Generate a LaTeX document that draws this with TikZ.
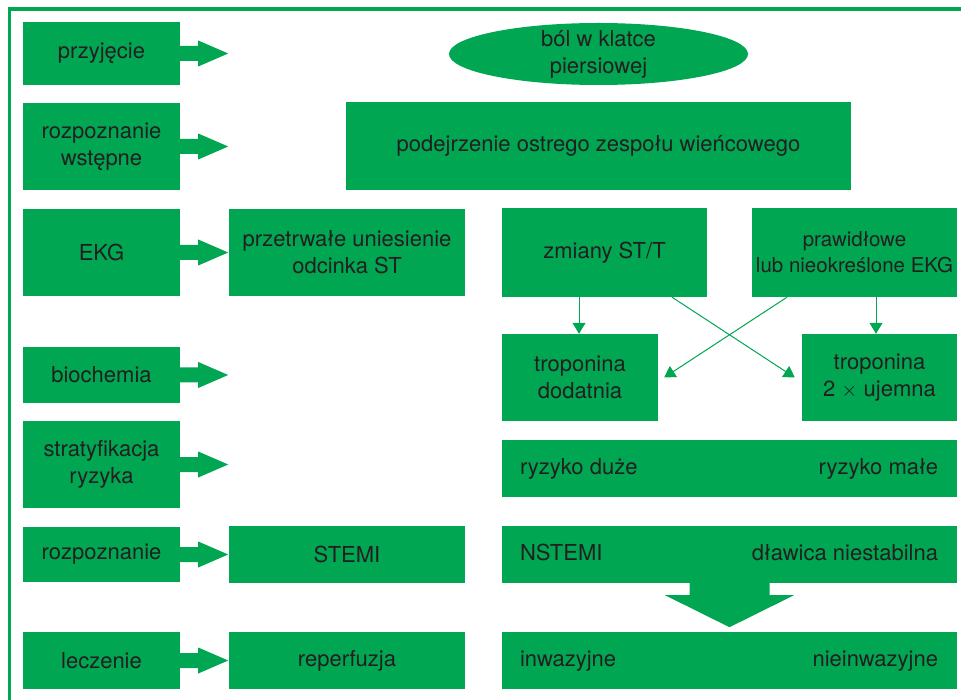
\documentclass[tikz,border=0pt]{standalone}
\usepackage{fontspec}
\setmainfont{TeX Gyre Heros}
\usetikzlibrary{arrows.meta,shapes.geometric}
\definecolor{acs}{HTML}{00A651}
\definecolor{ink}{HTML}{231F20}
\newcommand\acsarrow[1]{\fill[fatarr] ([xshift=-1pt]#1.east) ++(0,-7.5) -- ++(19,0) -- ++(0,-5.5) -- ++(30,13) -- ++(-30,13) -- ++(0,-5.5) -- ++(-19,0) -- cycle;}
\begin{document}
\begin{tikzpicture}[x=1pt,y=-1pt,
  box/.style={fill=acs, draw=none, inner sep=0pt, text=ink, align=center,
              font=\fontsize{22}{27}\selectfont},
  lbl/.style={text=ink, inner sep=0pt, text height=16pt, text depth=5pt,
              font=\fontsize{22}{27}\selectfont},
  thinarr/.style={draw=acs, line width=1pt, -{Triangle[length=11pt,width=13pt]}},
  fatarr/.style={fill=acs, draw=none},
]
\useasboundingbox (0,0) rectangle (961,700);
% frame
\draw[acs, line width=3.8pt, line join=miter] (9.5,720) -- (9.5,9.3) -- (980,9.3);

% left column
\node[box, minimum width=157pt, minimum height=63pt] (prz) at (101.5,53.5) {przyjęcie};
\node[box, minimum width=157pt, minimum height=87pt] (rwst) at (101.5,146.5) {rozpoznanie\\wstępne};
\node[box, minimum width=157pt, minimum height=87pt] (ekg) at (101.5,252.5) {EKG};
\node[box, minimum width=157pt, minimum height=56pt] (bio) at (101.5,375) {biochemia};
\node[box, minimum width=157pt, minimum height=87pt] (str) at (101.5,464.5) {stratyfikacja\\ryzyka};
\node[box, minimum width=157pt, minimum height=55pt] (roz) at (101.5,554.5) {rozpoznanie};
\node[box, minimum width=157pt, minimum height=57pt] (lecz) at (101.5,660.5) {leczenie};

\acsarrow{prz}
\acsarrow{rwst}
\acsarrow{ekg}
\acsarrow{bio}
\acsarrow{str}
\acsarrow{roz}
\acsarrow{lecz}

% top
\node[fill=acs, ellipse, inner sep=0pt, minimum width=299pt, minimum height=62pt] (bol) at (598.5,54) {};
\node[text=ink, inner sep=0pt, align=center, font=\fontsize{22}{27}\selectfont] (boltxt) at (bol) {ból w klatce\\piersiowej};
\node[box, minimum width=505pt, minimum height=88pt] (pod) at (598.5,146) {podejrzenie ostrego zespołu wieńcowego};

% middle column
\node[box, minimum width=236pt, minimum height=87pt] (prze) at (347,252.5) {przetrwałe uniesienie\\odcinka ST};
\node[box, minimum width=236pt, minimum height=57pt] (stemi) at (347,554.5) {STEMI};
\node[box, minimum width=236pt, minimum height=57pt] (rep) at (347,660.5) {reperfuzja};

% right column
\node[box, minimum width=205pt, minimum height=89pt] (zm) at (604.5,252.5) {zmiany ST/T};
\node[box, minimum width=205pt, minimum height=89pt, font=\fontsize{20.5}{26}\selectfont] (pr) at (854.5,252.5) {prawidłowe\\lub nieokreślone EKG};
\node[box, minimum width=156pt, minimum height=87pt] (tpd) at (580,377.5) {troponina\\dodatnia};
\node[box, minimum width=155pt, minimum height=87pt] (t2) at (879.5,377.5) {troponina\\2 $\times$ ujemna};

\draw[thinarr] ([xshift=-1pt]tpd.north |- zm.south) -- ([xshift=-1pt]tpd.north);
\draw[thinarr] ([xshift=-3.5pt]t2.north |- pr.south) -- ([xshift=-3.5pt]t2.north);
\coordinate (cA) at ([xshift=-7pt]t2.west);
\coordinate (cB) at ([xshift=6pt]tpd.east);
\draw[thinarr] ([xshift=67.5pt]zm.south) -- (cA);
\draw[thinarr] ([xshift=-67.5pt]pr.south) -- (cB);

\node[box, minimum width=455pt, minimum height=57pt] (ry) at (729.5,468.5) {};
\node[lbl, anchor=west] (ryd) at ([xshift=18pt]ry.west) {ryzyko duże};
\node[lbl, anchor=east] (rym) at ([xshift=-19pt]ry.east) {ryzyko małe};

\node[box, minimum width=455pt, minimum height=57pt] (nst) at (729.5,554.5) {};
\node[lbl, anchor=west] (nstl) at ([xshift=18pt]nst.west) {NSTEMI};
\node[lbl, anchor=east] (nstr) at ([xshift=-19pt]nst.east) {dławica niestabilna};

\node[box, minimum width=455pt, minimum height=57pt] (inw) at (729.5,660.5) {};
\node[lbl, anchor=west] (inwl) at ([xshift=18pt]inw.west) {inwazyjne};
\node[lbl, anchor=east] (inwr) at ([xshift=-19pt]inw.east) {nieinwazyjne};

\fill[fatarr] ([yshift=1pt]nst.south) ++(-40,0) -- ++(0,13) -- ++(-24.5,0) -- ++(64.5,32) -- ++(64.5,-32) -- ++(-24.5,0) -- ++(0,-13) -- cycle;
\end{tikzpicture}
\end{document}
